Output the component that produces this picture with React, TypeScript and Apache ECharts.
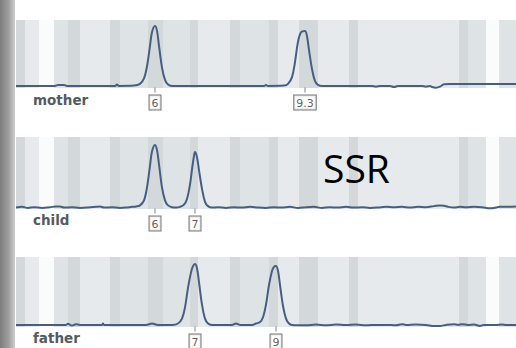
import React, { useEffect, useRef } from "react";
import * as echarts from "echarts";

// Traces: [size position, signal intensity]
const motherTrace: number[][] = [
  [0, 3], [39, 3], [42, 4.5], [48, 4.5], [51, 3], [99, 3], [101, 5], [103, 3],
  [118, 3.5], [124, 6], [128, 14], [131, 32], [134, 62], [136, 82], [139, 91],
  [141, 84], [143, 62], [146, 30], [149, 12], [152, 5], [156, 3],
  [248, 3], [250, 4.5], [252, 3], [268, 3.5], [272, 6], [276, 16], [279, 38],
  [282, 68], [285, 82], [289, 84], [291, 76], [293, 56], [296, 28], [299, 10],
  [302, 4.5], [306, 3], [356, 3], [360, 2], [364, 3], [374, 3], [378, 1.5],
  [382, 3], [406, 3], [410, 2], [414, 3], [416, 1.5], [420, 0.5], [424, 2],
  [428, 5.5], [434, 6], [500, 6],
];

const childTrace: number[][] = [
  [0, 2], [6, 3], [12, 1.5], [18, 2.5], [26, 1.5], [34, 2.5], [40, 3.5], [44, 3.5],
  [48, 2], [56, 2.5], [64, 1.5], [72, 2], [80, 3], [84, 3.5], [88, 2], [96, 2.5],
  [104, 1.5], [110, 2], [116, 3], [120, 3.5], [124, 5], [128, 12], [131, 30],
  [134, 60], [136, 80], [139, 89], [141, 82], [143, 62], [146, 30], [149, 12],
  [152, 5], [156, 2.5], [160, 2], [164, 3], [168, 6], [171, 14], [174, 34],
  [176, 55], [178, 74], [179, 79], [181, 72], [183, 54], [186, 28], [189, 10],
  [192, 4], [196, 2], [202, 2.5], [210, 1.5], [218, 2.5], [226, 2], [234, 3],
  [242, 2], [250, 1.5], [258, 2.5], [266, 2], [274, 3], [282, 1.5], [290, 2.5],
  [298, 3], [306, 1.5], [314, 2.5], [322, 2], [330, 3], [338, 2], [346, 2.5],
  [354, 1.5], [362, 2], [370, 3], [378, 2.5], [386, 3], [394, 2], [402, 3],
  [410, 2.5], [418, 4], [424, 5], [428, 4.5], [432, 3], [438, 2], [444, 3],
  [450, 2.5], [458, 3], [466, 2.5], [474, 1], [478, 1.5], [484, 3], [492, 3],
  [500, 3.5],
];

const fatherTrace: number[][] = [
  [0, 3], [50, 3], [52, 4.5], [56, 2], [60, 4], [64, 3], [86, 3], [87, 5], [88, 3],
  [130, 3], [136, 5], [142, 3], [156, 3], [162, 5], [166, 12], [169, 28],
  [172, 56], [175, 78], [177, 87], [179, 90], [181, 84], [183, 64], [186, 32],
  [189, 12], [192, 5], [196, 3], [216, 3], [220, 5], [224, 3], [236, 3],
  [240, 5], [244, 7], [247, 14], [250, 32], [253, 60], [256, 80], [258, 86],
  [260, 87], [262, 80], [264, 60], [267, 30], [270, 12], [273, 5], [276, 3],
  [290, 2.5], [300, 3.5], [310, 2.5], [320, 3.5], [330, 3], [340, 3.5],
  [350, 2.5], [360, 3], [370, 3], [380, 2.5], [386, 4], [390, 3], [400, 3.5],
  [410, 3], [418, 1.5], [424, 1.5], [430, 3], [438, 4], [442, 3], [446, 4],
  [452, 3], [458, 3.5], [464, 1.5], [468, 3], [480, 3], [486, 3.5], [490, 3],
  [500, 3],
];

// Allele calls: [position, label]
const motherAlleles: [number, string][] = [[139, "6"], [289, "9.3"]];
const childAlleles: [number, string][] = [[139, "6"], [179, "7"]];
const fatherAlleles: [number, string][] = [[179, "7"], [260, "9"]];

const panelNames = ["mother", "child", "father"];

// Allele bins (size ranges)
const gapBins: number[][] = [[23, 38], [470, 483]];
const darkBins: number[][] = [
  [0, 9], [52, 64], [94, 104], [132, 147], [174, 182], [214, 224], [253, 262],
  [283, 302], [333, 342], [443, 452],
];
const lightBins: number[][] = [
  [9, 23], [64, 94], [182, 214], [262, 283], [302, 333], [342, 443],
];

const App: React.FC = () => {
  const ref = useRef<HTMLDivElement>(null);

  useEffect(() => {
    if (!ref.current) return;
    const chart = echarts.init(ref.current, undefined, { renderer: "svg" });

    const grids = [
      { left: 16, width: 500, top: 20, height: 68 },
      { left: 16, width: 500, top: 137, height: 72 },
      { left: 16, width: 500, top: 257, height: 70 },
    ];
    const traces = [motherTrace, childTrace, fatherTrace];
    const alleles = [motherAlleles, childAlleles, fatherAlleles];
    const nameTops = [93, 213, 331];

    const markAreaData = [
      ...lightBins.map((b) => [
        { xAxis: b[0], itemStyle: { color: "#e6eaed" } },
        { xAxis: b[1] },
      ]),
      ...darkBins.map((b) => [
        { xAxis: b[0], itemStyle: { color: "#d3d8db" } },
        { xAxis: b[1] },
      ]),
      ...gapBins.map((b) => [
        { xAxis: b[0], itemStyle: { color: "#fafbfb" } },
        { xAxis: b[1] },
      ]),
    ];

    const series: any[] = [];
    traces.forEach((t, i) => {
      series.push({
        type: "line",
        xAxisIndex: i,
        yAxisIndex: i,
        data: t,
        smooth: 0.35,
        symbol: "none",
        lineStyle: { color: "#475e82", width: 2 },
        markArea: { silent: true, data: markAreaData },
        z: 3,
      });
      series.push({
        type: "scatter",
        xAxisIndex: i,
        yAxisIndex: i,
        data: alleles[i].map((a) => ({ value: [a[0], 0], name: a[1] })),
        symbol: "rect",
        symbolSize: [1, 5],
        symbolOffset: [0, 2],
        itemStyle: { color: "#666" },
        clip: false,
        z: 4,
        label: {
          show: true,
          position: "bottom",
          distance: 3,
          formatter: (p: any) => p.name,
          fontFamily: "DejaVu Sans",
          fontSize: 11,
          color: "#333",
          backgroundColor: "#fff",
          borderColor: "#555",
          borderWidth: 1,
          padding: [2, 2, 1, 2],
        },
      });
    });

    chart.setOption({
      animation: false,
      backgroundColor: "#ffffff",
      grid: grids.map((g) => ({
        ...g,
        show: true,
        backgroundColor: "#dee3e6",
        borderWidth: 0,
      })),
      xAxis: grids.map((_, i) => ({
        type: "value",
        gridIndex: i,
        min: 0,
        max: 500,
        show: false,
      })),
      yAxis: grids.map((_, i) => ({
        type: "value",
        gridIndex: i,
        min: 0,
        max: 100,
        show: false,
      })),
      title: panelNames.map((n, i) => ({
        text: n,
        left: 33,
        top: nameTops[i],
        padding: 0,
        textStyle: {
          fontFamily: "DejaVu Sans",
          fontWeight: "bold",
          fontSize: 13.5,
          color: "#555a5f",
        },
      })),
      graphic: [
        {
          type: "rect",
          shape: { x: 0, y: 0, width: 15, height: 348 },
          style: {
            fill: new echarts.graphic.LinearGradient(0, 0, 1, 0, [
              { offset: 0, color: "#7d7d7d" },
              { offset: 0.6, color: "#a0a0a0" },
              { offset: 1, color: "#cfcfcf" },
            ]),
          },
          silent: true,
        },
        {
          type: "text",
          left: 323,
          top: 148,
          style: {
            text: "SSR",
            fontFamily: "Open Sans",
            fontSize: 39,
            fill: "#000",
          },
          z: 10,
        },
      ],
      series,
    });

    return () => chart.dispose();
  }, []);

  return (
    <div
      ref={ref}
      style={{ position: "fixed", left: 0, top: 0, width: 516, height: 348 }}
    />
  );
};

export default App;
